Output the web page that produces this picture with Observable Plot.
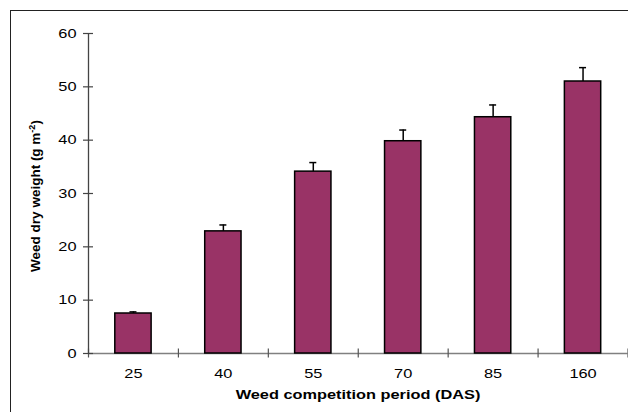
<!DOCTYPE html>
<html>
<head>
<meta charset="utf-8">
<script src="https://cdn.jsdelivr.net/npm/d3@7"></script>
<script src="https://cdn.jsdelivr.net/npm/@observablehq/plot@0.6"></script>
<style>
  html, body { margin: 0; padding: 0; background: #fff; }
  #wrap { position: relative; width: 628px; height: 412px; overflow: hidden; }
  #border { position: absolute; left: 10px; top: 10px; width: 700px; height: 500px;
            border-left: 1.6px solid #222; border-top: 1.6px solid #222; pointer-events: none; }
</style>
</head>
<body>
<div id="wrap"><div id="border"></div></div>
<script>
const categories = ["25", "40", "55", "70", "85", "160"];
const weights = [7.5, 22.9, 34.1, 39.8, 44.3, 51.0];
const errors = [0.3, 1.2, 1.7, 2.1, 2.3, 2.6];
const yTicks = [0, 10, 20, 30, 40, 50, 60];
const xBounds = [0, 1, 2, 3, 4, 5, 6];
const xTitle = "Weed competition period (DAS)";
const yTitle = "Weed dry weight (g m";
const yTitleSup = "-2";

const data = categories.map((c, i) => ({i, c, v: weights[i], e: errors[i]}));

const chart = Plot.plot({
  width: 628,
  height: 412,
  marginLeft: 88,
  marginRight: 0.5,
  marginTop: 33,
  marginBottom: 59,
  x: {domain: [0, 6], axis: null},
  y: {domain: [0, 60], axis: null},
  style: {fontFamily: "'Liberation Sans', Arial, sans-serif", fontSize: "13.5px", color: "#000", background: "transparent"},
  marks: [
    Plot.ruleY([0], {stroke: "#808080", strokeWidth: 1.5}),
    Plot.ruleX(xBounds, {x: d => d, y1: 0, y2: 0, insetTop: -4.5, insetBottom: -4.5, stroke: "#555", strokeWidth: 1.2}),
    Plot.rectY(data, {x1: d => d.i, x2: d => d.i + 1, y: "v", insetLeft: 26.8, insetRight: 26.8,
      fill: "#993366", stroke: "#000", strokeWidth: 1.5}),
    Plot.ruleX(data, {x: d => d.i + 0.5, y1: "v", y2: d => d.v + d.e, stroke: "#000", strokeWidth: 1.5}),
    Plot.ruleY(data, {y: d => d.v + d.e, x1: d => d.i + 0.5, x2: d => d.i + 0.5, insetLeft: -3.5, insetRight: -3.5, stroke: "#000", strokeWidth: 1.5}),
    Plot.ruleX([0], {y1: 0, y2: 60, stroke: "#444", strokeWidth: 1.3}),
    Plot.ruleY(yTicks, {y: d => d, x1: 0, x2: 0, insetLeft: -5, insetRight: -5, stroke: "#444", strokeWidth: 1.2}),
    Plot.text(yTicks, {x: 0, y: d => d, text: d => String(d), textAnchor: "end", dx: -12, fill: "#000", className: "stretch"}),
    Plot.text(data, {x: d => d.i + 0.5, y: 0, text: "c", dy: 20, fill: "#000", className: "stretch"})
  ]
});

document.getElementById("wrap").prepend(chart);

const svg = d3.select(chart);
svg.append("text")
  .attr("class", "stretchTitle")
  .attr("x", 358).attr("y", 399)
  .attr("text-anchor", "middle")
  .attr("font-weight", "bold")
  .attr("font-size", "13.5px")
  .attr("fill", "#000")
  .text(xTitle);

// the reference is horizontally stretched: widen horizontal texts
svg.selectAll("text").each(function() {
  const el = this;
  if (el.closest("[transform*='rotate']")) return;
  const len = el.getComputedTextLength();
  if (len > 0) {
    el.setAttribute("textLength", (len * 1.21).toFixed(1));
    el.setAttribute("lengthAdjust", "spacingAndGlyphs");
  }
});

const yt = svg.append("text")
  .attr("transform", "translate(40,196) rotate(-90)")
  .attr("text-anchor", "middle")
  .attr("font-weight", "bold")
  .attr("font-size", "13.5px")
  .attr("fill", "#000");
yt.append("tspan").text(yTitle);
yt.append("tspan").attr("font-size", "9px").attr("dy", "-5").text(yTitleSup);
yt.append("tspan").attr("dy", "5").text(")");
</script>
</body>
</html>
